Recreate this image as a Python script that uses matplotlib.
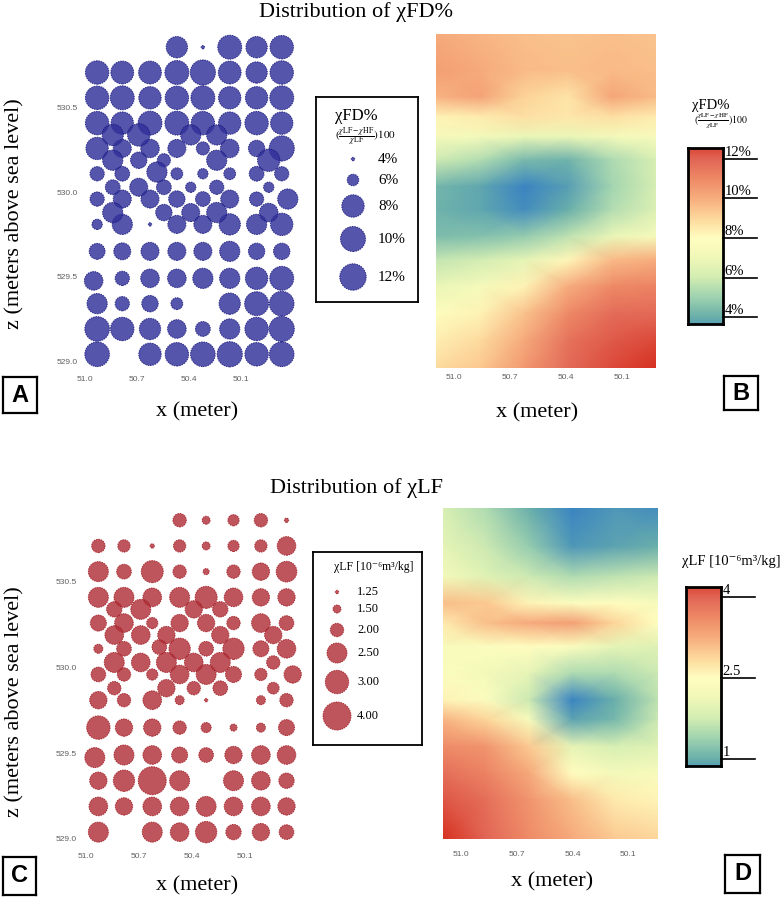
import numpy as np
import matplotlib
matplotlib.use('Agg')
import matplotlib.pyplot as plt
from matplotlib.colors import LinearSegmentedColormap, Normalize
from matplotlib.transforms import blended_transform_factory

plt.rcParams['font.family'] = ['Liberation Serif', 'DejaVu Serif']
plt.rcParams['mathtext.fontset'] = 'stix'

W, H, DPI = 782, 899, 100
nan = np.nan

# sample grid positions (m)
x_cols = [50.93, 50.785, 50.625, 50.47, 50.32, 50.165, 50.01, 49.865]
z_rows = [530.86, 530.71, 530.56, 530.41, 530.26, 530.11, 529.96,
          529.81, 529.65, 529.49, 529.34, 529.19, 529.04]
x_mid = [50.84, 50.69, 50.545, 50.39, 50.24, 50.09, 49.94]
z_mid = [530.34, 530.19, 530.03, 529.88]
x_odd = [50.585, 49.83, 50.95]
z_odd = [530.12, 529.96, 529.475]

# chi FD % at the samples
fd_main = [
    [nan, nan, nan, 7.8, 4.0, 9.2, 7.8, 8.8],
    [8.8, 8.3, 8.3, 9.2, 10.3, 8.3, 7.8, 8.8],
    [8.8, 9.2, 8.0, 8.8, 9.2, 8.0, 8.0, 9.2],
    [8.8, 8.0, 9.2, 9.2, 8.8, 8.0, 8.8, 8.0],
    [8.0, 7.2, 7.3, 7.2, 6.3, 7.3, 6.9, 10.3],
    [6.5, 6.6, nan, 6.05, 5.7, 6.05, 6.6, 6.5],
    [6.5, 7.2, 7.2, 6.9, 6.6, 7.2, 6.5, nan],
    [5.7, 7.6, 4.0, 7.2, 7.2, 7.8, 7.6, 8.0],
    [6.8, 7.0, 7.2, 7.2, 7.2, 7.6, 6.9, 6.9],
    [nan, 6.5, 7.3, 7.3, 7.6, 7.6, 8.0, 9.2],
    [7.6, 6.5, 6.9, 6.05, nan, 7.8, 9.2, 9.7],
    [9.7, 8.8, 7.8, 7.3, 6.6, 7.6, 8.8, 10.3],
    [9.7, nan, 8.0, 8.8, 9.7, 10.3, 8.8, 9.7],
]
fd_mid = [
    [7.8, 8.0, nan, 7.6, 7.6, nan, nan],
    [7.6, 6.9, 6.3, nan, 7.6, nan, 8.0],
    [6.6, 7.2, 6.6, 5.7, 6.5, nan, 5.7],
    [7.6, nan, 6.9, 7.2, 7.6, nan, 7.3],
]
fd_odd = [7.6, 7.6, 7.3]

# chi LF [1e-6 m3/kg] at the samples
lf_main = [
    [nan, nan, nan, 2.0, 1.5, 1.8, 2.0, 1.3],
    [2.0, 1.9, 1.3, 1.9, 1.5, 1.8, 1.9, 2.4],
    [2.5, 2.1, 2.8, 2.0, 1.4, 2.0, 2.3, 2.6],
    [2.5, 2.5, 2.4, 2.5, 2.8, 2.4, 2.3, 2.3],
    [2.2, 2.4, 1.8, 2.3, 2.3, 2.0, 2.4, 2.1],
    [1.6, 2.1, nan, 2.7, 2.1, 2.7, 2.2, 2.4],
    [2.1, 2.0, 1.8, 2.4, 2.5, 2.2, 1.9, nan],
    [2.3, 2.0, 2.4, 1.6, 1.25, nan, 1.6, 2.0],
    [3.0, 2.3, 2.3, 2.0, 1.7, 1.45, 1.6, 2.2],
    [nan, 2.5, 2.4, 2.2, 2.1, 2.3, 2.4, 2.4],
    [2.3, 2.7, 4.0, 2.5, nan, 2.5, 2.4, 2.15],
    [2.4, 2.3, 2.4, 2.4, 2.5, 2.4, 2.4, 2.3],
    [2.5, nan, 2.5, 2.4, 2.7, 2.15, 2.3, 2.1],
]
lf_mid = [
    [2.15, 2.5, nan, 2.3, 2.15, nan, nan],
    [2.4, 2.4, 2.3, nan, 2.3, nan, 2.3],
    [2.5, 2.4, 2.5, 2.4, 2.5, nan, 2.0],
    [2.0, nan, 2.3, 2.0, 2.1, nan, 1.85],
]
lf_odd = [2.1, 2.3, 2.5]

# legend classes and their symbol radius (px)
fd_leg = [4, 6, 8, 10, 12]
fd_leg_r = [1.7, 5.8, 11.2, 12.5, 13.2]
lf_leg = [1.25, 1.50, 2.00, 2.50, 3.00, 4.00]
lf_leg_r = [1.7, 4.0, 6.7, 10.0, 11.7, 14.0]

# interpolated surfaces (B and D), rows top -> bottom
fd_map_x = np.linspace(51.096, 49.918, 6)
fd_map_z = [530.95, 530.735, 530.575, 530.455, 530.336, 530.196, 530.037,
            529.897, 529.738, 529.598, 529.439, 529.279, 529.119, 528.95]
fd_map = [
    [10.1, 9.8, 9.6, 9.5, 9.6, 9.5],
    [10.4, 10.1, 9.7, 9.6, 9.7, 9.6],
    [9.9, 10.3, 9.1, 8.7, 10.2, 9.7],
    [8.3, 8.5, 8.8, 8.6, 8.8, 8.5],
    [7.4, 7.2, 6.8, 6.8, 7.2, 7.5],
    [5.9, 5.4, 4.3, 4.1, 5.3, 6.2],
    [4.2, 3.8, 3.0, 3.6, 5.1, 6.1],
    [4.1, 3.8, 3.2, 4.0, 5.4, 6.3],
    [4.4, 4.5, 4.8, 5.6, 6.8, 7.4],
    [5.7, 6.0, 6.6, 8.2, 9.7, 10.0],
    [6.8, 7.3, 8.3, 10.0, 11.0, 11.2],
    [7.8, 8.3, 9.5, 11.0, 11.8, 11.9],
    [8.4, 8.9, 10.1, 11.6, 12.2, 12.5],
    [8.9, 9.4, 10.6, 11.9, 12.5, 13.2],
]
lf_map_x = np.linspace(51.097, 49.94, 6)
lf_map_z = [530.95, 530.718, 530.537, 530.376, 530.255, 530.114, 529.953,
            529.792, 529.671, 529.51, 529.349, 529.188, 528.95]
lf_map = [
    [1.8, 1.5, 1.0, 0.6, 0.8, 0.7],
    [2.0, 1.7, 1.3, 0.8, 0.9, 1.0],
    [2.2, 1.9, 1.7, 1.5, 1.6, 1.7],
    [3.1, 3.0, 2.6, 2.4, 2.5, 2.3],
    [2.7, 3.1, 3.3, 3.4, 2.9, 2.5],
    [2.3, 2.4, 2.5, 2.4, 2.0, 1.9],
    [2.4, 2.2, 2.0, 1.5, 1.5, 1.7],
    [2.6, 2.4, 1.7, 0.6, 1.0, 1.6],
    [3.2, 2.9, 2.3, 0.9, 1.1, 1.7],
    [3.6, 3.5, 3.0, 2.0, 1.8, 1.9],
    [3.9, 3.7, 3.3, 2.5, 2.2, 2.3],
    [4.1, 3.9, 3.5, 3.1, 2.7, 2.6],
    [4.6, 4.0, 3.6, 3.3, 3.0, 2.9],
]

x_ticks = [51.0, 50.7, 50.4, 50.1]
z_ticks = [529.0, 529.5, 530.0, 530.5]
fd_cb_ticks = [4, 6, 8, 10, 12]
lf_cb_ticks = [1, 2.5, 4]

cmap = LinearSegmentedColormap.from_list('chi', [
    '#3a84c2', '#6bb0aa', '#9fd3b0', '#d3edb2', '#f0f8b8', '#fffec0',
    '#fdd89c', '#f7ae7e', '#ee8a66', '#e26656', '#d6301f'])
fd_norm = Normalize(3.0, 13.0)
lf_norm = Normalize(0.625, 4.375)

LF_UNIT = 'χLF [10⁻⁶m³/kg]'

fig = plt.figure(figsize=(W / DPI, H / DPI), dpi=DPI)


def px_axes(l, t, r, b):
    return fig.add_axes([l / W, 1 - b / H, (r - l) / W, (b - t) / H])


def area(vals, leg, leg_r):
    r = np.interp(vals, leg, leg_r)
    return (2 * r * 72 / DPI) ** 2


def samples(main, mid, odd):
    X1, Z1 = np.meshgrid(x_cols, z_rows)
    X2, Z2 = np.meshgrid(x_mid, z_mid)
    x = np.concatenate([X1.ravel(), X2.ravel(), x_odd])
    z = np.concatenate([Z1.ravel(), Z2.ravel(), z_odd])
    v = np.concatenate([np.ravel(main), np.ravel(mid), odd])
    ok = ~np.isnan(v)
    return x[ok], z[ok], v[ok]


def tick_style(ax, xpad, ypad=None):
    ax.set_xticks(x_ticks)
    ax.set_xticklabels(['%.1f' % t for t in x_ticks], family='Liberation Sans')
    if ypad is None:
        ax.set_yticks([])
    else:
        ax.set_yticks(z_ticks)
        ax.set_yticklabels(['%.1f' % t for t in z_ticks], family='Liberation Sans')
        ax.tick_params(axis='y', pad=ypad)
    ax.tick_params(length=0, labelsize=6, labelcolor='#606060')
    ax.tick_params(axis='x', pad=xpad)
    for s in ax.spines.values():
        s.set_visible(False)


def bubbles(box, main, mid, odd, leg, leg_r, fc, ec, xpad, ypad):
    ax = px_axes(*box)
    x, z, v = samples(main, mid, odd)
    ax.scatter(x, z, s=area(v, leg, leg_r), c=fc, alpha=0.82, edgecolors=ec,
               linewidths=0.7, linestyle=(0, (1.5, 1)), clip_on=False)
    ax.set_xlim(51.03, 49.80)
    ax.set_ylim(528.98, 530.95)
    tick_style(ax, xpad, ypad)
    return ax


def surface(box, xs, zs, field, norm, xlim, xpad):
    ax = px_axes(*box)
    ax.pcolormesh(xs, zs, np.array(field), shading='gouraud', cmap=cmap, norm=norm)
    ax.set_xlim(*xlim)
    ax.set_ylim(528.95, 530.95)
    tick_style(ax, xpad)


def colorbar(box, lo, hi, norm, ticks, labels):
    ax = px_axes(*box)
    grad = np.linspace(lo, hi, 256).reshape(-1, 1)
    ax.imshow(grad, extent=[0, 1, lo, hi], origin='lower', aspect='auto',
              cmap=cmap, norm=norm)
    ax.set_xlim(0, 1)
    ax.set_ylim(lo, hi)
    ax.set_xticks([])
    ax.set_yticks([])
    for s in ax.spines.values():
        s.set_linewidth(2)
    tr = blended_transform_factory(ax.transAxes, ax.transData)
    for v, lab in zip(ticks, labels):
        ax.plot([1, 1.97], [v, v], color='k', lw=1.2, transform=tr, clip_on=False)
        ax.text(1.04, v, lab, transform=tr, ha='left', va='bottom', fontsize=10.5)


def legend_box(box):
    ax = px_axes(*box)
    ax.set_xlim(box[0], box[2])
    ax.set_ylim(box[3], box[1])
    ax.set_xticks([])
    ax.set_yticks([])
    for s in ax.spines.values():
        s.set_linewidth(1.3)
    return ax


# ---- A: chi FD bubbles ----
bubbles((79.8, 32.0, 293.0, 364.4), fd_main, fd_mid, fd_odd, fd_leg, fd_leg_r,
        '#30309a', '#14147a', 8.4, 1.3)
lg = legend_box((316, 97, 418, 302))
lg.text(356, 116, 'χFD%', ha='center', va='center', fontsize=12)
lg.text(365, 137, r'$(\frac{\chi\mathrm{LF}-\chi\mathrm{HF}}{\chi\mathrm{LF}})100$',
        ha='center', va='center', fontsize=8)
fd_leg_y = [159, 180, 206, 239, 277]
lg.scatter([353] * len(fd_leg), fd_leg_y, s=area(fd_leg, fd_leg, fd_leg_r),
           c='#30309a', alpha=0.82, edgecolors='#14147a', linewidths=0.7,
           linestyle=(0, (1.5, 1)))
for y, v in zip(fd_leg_y, fd_leg):
    lg.text(378, y, '%d%%' % v, ha='left', va='center', fontsize=11)

# ---- B: chi FD surface ----
surface((436, 34, 656, 368), fd_map_x, fd_map_z, fd_map, fd_norm, (51.096, 49.918), 4.3)
colorbar((688, 148, 723, 324), 3.65, 12.55, fd_norm, fd_cb_ticks,
         ['%d%%' % t for t in fd_cb_ticks])
fig.text(711 / W, 1 - 106 / H, 'χFD%', ha='center', va='center', fontsize=10.5)
fig.text(721 / W, 1 - 121 / H, r'$(\frac{\chi\mathrm{LF}-\chi\mathrm{HF}}{\chi\mathrm{LF}})100$',
         ha='center', va='center', fontsize=7)

# ---- C: chi LF bubbles ----
bubbles((80.7, 504.8, 298.0, 842.4), lf_main, lf_mid, lf_odd, lf_leg, lf_leg_r,
        '#b03038', '#a01820', 7.6, 2.7)
lg = legend_box((313, 552, 422, 745))
lg.text(334, 567, LF_UNIT, ha='left', va='center', fontsize=8.5)
lf_leg_y = [592, 609, 630, 653, 682, 716]
lg.scatter([337] * len(lf_leg), lf_leg_y, s=area(lf_leg, lf_leg, lf_leg_r),
           c='#b03038', alpha=0.82, edgecolors='#a01820', linewidths=0.7,
           linestyle=(0, (1.5, 1)))
for y, v in zip(lf_leg_y, lf_leg):
    lg.text(357, y, '%.2f' % v, ha='left', va='center', fontsize=9)

# ---- D: chi LF surface ----
surface((443, 508, 658, 839), lf_map_x, lf_map_z, lf_map, lf_norm, (51.097, 49.94), 9)
colorbar((686, 587, 721, 766), 0.87, 4.19, lf_norm, lf_cb_ticks,
         ['%g' % t for t in lf_cb_ticks])
fig.text(731 / W, 1 - 561 / H, LF_UNIT, ha='center', va='center', fontsize=10.5)

# ---- titles and axis labels ----
fig.text(356 / W, 1 - 12 / H, 'Distribution of χFD%', ha='center', va='center', fontsize=16)
fig.text(356 / W, 1 - 488 / H, 'Distribution of χLF', ha='center', va='center', fontsize=16)
for cy in (214, 702):
    fig.text(15 / W, 1 - cy / H, 'z (meters above sea level)', rotation=90,
             ha='center', va='center', fontsize=16)
for cx, cy in ((197, 412), (537, 413), (197, 886), (552, 882)):
    fig.text(cx / W, 1 - cy / H, 'x (meter)', ha='center', va='center', fontsize=16)

# ---- panel letters ----
for letter, box in zip('ABCD', [(3, 377, 37, 413), (724, 376, 758, 410),
                                 (3, 857, 36, 895), (725, 855, 760, 893)]):
    ax = px_axes(*box)
    ax.set_xticks([])
    ax.set_yticks([])
    for s in ax.spines.values():
        s.set_linewidth(1.6)
    ax.text(0.5, 0.5, letter, ha='center', va='center', fontsize=17,
            fontweight='bold', family='Liberation Sans', transform=ax.transAxes)

fig.savefig('out.png', dpi=DPI)
